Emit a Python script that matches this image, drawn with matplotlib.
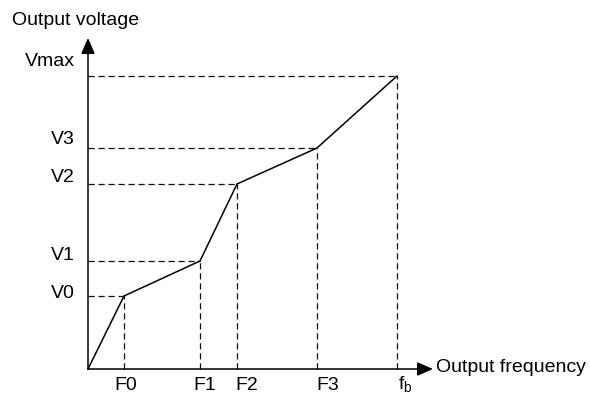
import matplotlib.pyplot as plt

plt.rcParams['font.family'] = ['Liberation Sans', 'DejaVu Sans']

# Break points of the V/F curve (frequency, voltage), origin at (0, 0)
freq = [36, 112, 149, 229, 309]
volt = [73, 108, 185, 221, 293]
freq_labels = ['F0', 'F1', 'F2', 'F3', r'f$_{\mathregular{b}}$']
volt_labels = ['V0', 'V1', 'V2', 'V3', 'Vmax']

fig = plt.figure(figsize=(5.9, 3.94), dpi=100)
ax = fig.add_axes([0, 0, 1, 1])
ax.set_xlim(-88, 502)
ax.set_ylim(-25, 369)
ax.axis('off')

# axes with arrow heads
arrow = dict(arrowstyle='-|>,head_length=0.8,head_width=0.35', mutation_scale=12,
             lw=1.1, color='black', shrinkA=0, shrinkB=0)
ax.annotate('', xy=(0, 331), xytext=(0, 0), arrowprops=arrow)
ax.annotate('', xy=(345, 0), xytext=(0, 0), arrowprops=arrow)

# dashed guide lines to each break point
for f, v in zip(freq, volt):
    ax.plot([0, f], [v, v], color='#111111', lw=0.9, ls=(0, (5, 3)))
    ax.plot([f, f], [0, v], color='#111111', lw=0.9, ls=(0, (5, 3)))

# the V/F curve
ax.plot([0] + freq, [0] + volt, color='black', lw=1.1)

fs = 14
ax.text(-76, 349, 'Output voltage', fontsize=fs, ha='left', va='center')
ax.text(348, 1, 'Output frequency', fontsize=fs, ha='left', va='center')

v_off = [2, 5, 7, 9, 15]
for v, lab, d in zip(volt, volt_labels, v_off):
    ax.text(-13, v + d, lab, fontsize=fs, ha='right', va='center')

f_off = [(2, -16), (5, -16), (10, -17), (11, -16), (8, -16)]
for f, lab, (dx, dy) in zip(freq, freq_labels, f_off):
    ax.text(f + dx, dy, lab, fontsize=fs, ha='center', va='center')

fig.savefig('out.png', dpi=100)
